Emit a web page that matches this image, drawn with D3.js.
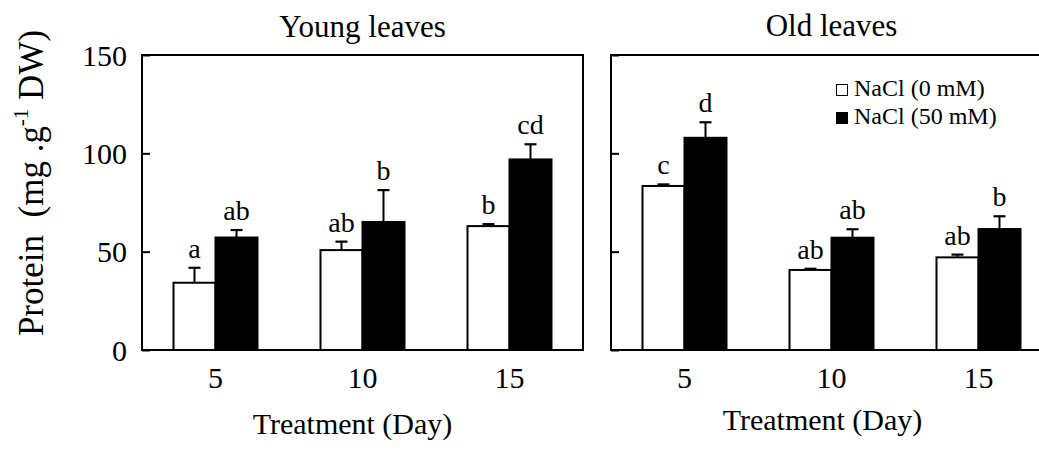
<!DOCTYPE html>
<html>
<head>
<meta charset="utf-8">
<script src="https://cdn.jsdelivr.net/npm/d3@7"></script>
<style>
  html, body { margin: 0; padding: 0; background: #fff; }
  svg { display: block; }
  text { font-family: "Liberation Serif", "Times New Roman", serif; fill: #000; }
</style>
</head>
<body>
<svg id="chart" width="1039" height="454"></svg>
<script>
// ---- data ----
const days = ["5", "10", "15"];
const seriesNames = ["NaCl (0 mM)", "NaCl (50 mM)"];
const panelTitles = ["Young leaves", "Old leaves"];
const yTicks = [0, 50, 100, 150];

const youngControl = [34.2, 50.8, 63.0];
const youngControlErr = [7.6, 4.3, 1.0];
const youngSalt = [57.2, 65.1, 96.9];
const youngSaltErr = [3.8, 16.2, 7.7];
const youngControlLetters = ["a", "ab", "b"];
const youngSaltLetters = ["ab", "b", "cd"];

const oldControl = [83.4, 40.7, 47.1];
const oldControlErr = [0.8, 0.6, 1.4];
const oldSalt = [107.9, 57.1, 61.5];
const oldSaltErr = [7.9, 4.3, 6.5];
const oldControlLetters = ["c", "ab", "ab"];
const oldSaltLetters = ["d", "ab", "b"];

(function () {
// ---- build ----
const panels = [
  { title: panelTitles[0], left: 142, series: [
      { vals: youngControl, errs: youngControlErr, letters: youngControlLetters },
      { vals: youngSalt, errs: youngSaltErr, letters: youngSaltLetters } ],
    xTitleBaseline: 434, xTitleShift: -10, titleBaseline: 37, showLabels: true },
  { title: panelTitles[1], left: 611, series: [
      { vals: oldControl, errs: oldControlErr, letters: oldControlLetters },
      { vals: oldSalt, errs: oldSaltErr, letters: oldSaltLetters } ],
    xTitleBaseline: 430, xTitleShift: -9, titleBaseline: 36, showLabels: false }
];

const svg = d3.select("#chart");
const W = 441, plotTop = 55, plotBottom = 350;
const fills = ["#ffffff", "#000000"];
const serif = "Liberation Serif, Times New Roman, serif";

const y = d3.scaleLinear().domain([0, 150]).range([plotBottom, plotTop]);

panels.forEach(p => {
  const g = svg.append("g").attr("transform", `translate(${p.left},0)`);
  const x = d3.scaleBand().domain(days).range([0, W])
    .paddingInner(0.4286).paddingOuter(0.2143);
  const xs = d3.scaleBand().domain([0, 1]).range([0, x.bandwidth()]);

  // bars
  p.series.forEach((s, si) => {
    const sg = g.append("g");
    days.forEach((d, i) => {
      const bx = x(d) + xs(si);
      const bw = xs.bandwidth();
      const cx = bx + bw / 2;
      sg.append("rect")
        .attr("x", bx).attr("y", y(s.vals[i]))
        .attr("width", bw).attr("height", y(0) - y(s.vals[i]))
        .attr("fill", fills[si]).attr("stroke", "#000").attr("stroke-width", 2);
      const yt = y(s.vals[i] + s.errs[i]);
      sg.append("line").attr("x1", cx).attr("x2", cx)
        .attr("y1", y(s.vals[i])).attr("y2", yt)
        .attr("stroke", "#000").attr("stroke-width", 2);
      sg.append("line").attr("x1", cx - 6).attr("x2", cx + 6)
        .attr("y1", yt).attr("y2", yt)
        .attr("stroke", "#000").attr("stroke-width", 2.2);
      sg.append("text").attr("x", cx).attr("y", yt - 10)
        .attr("text-anchor", "middle").attr("font-size", 28)
        .text(s.letters[i]);
    });
  });

  // y axis ticks (inward)
  const ya = d3.axisLeft(y).tickValues(yTicks).tickSizeInner(-8).tickSizeOuter(0).tickPadding(15);
  const yg = g.append("g").call(ya);
  yg.select(".domain").remove();
  yg.selectAll(".tick line").attr("stroke", "#000").attr("stroke-width", 2);
  yg.selectAll(".tick text").attr("font-size", 30).attr("font-family", serif)
    .attr("fill", "#000").attr("dy", "0.34em");
  if (!p.showLabels) yg.selectAll(".tick text").remove();

  // x axis labels
  const xa = d3.axisBottom(x).tickSize(0).tickPadding(17);
  const xg = g.append("g").attr("transform", `translate(0,${plotBottom})`).call(xa);
  xg.select(".domain").remove();
  xg.selectAll(".tick text").attr("font-size", 30).attr("font-family", serif).attr("fill", "#000");

  // frame
  g.append("rect").attr("x", 0).attr("y", plotTop).attr("width", W).attr("height", plotBottom - plotTop)
    .attr("fill", "none").attr("stroke", "#000").attr("stroke-width", 2);

  // titles
  g.append("text").attr("x", W / 2).attr("y", p.titleBaseline)
    .attr("text-anchor", "middle").attr("font-size", 31).text(p.title);
  g.append("text").attr("x", W / 2 + p.xTitleShift).attr("y", p.xTitleBaseline)
    .attr("text-anchor", "middle").attr("font-size", 30).text("Treatment (Day)");
});

// y axis title
const ytl = svg.append("text")
  .attr("transform", "translate(43,183) rotate(-90)")
  .attr("text-anchor", "middle").attr("font-size", 35)
  .attr("xml:space", "preserve").style("white-space", "pre");
ytl.append("tspan").text("Protein  (mg .g");
ytl.append("tspan").attr("font-size", 21).attr("dy", -15).text("-1");
ytl.append("tspan").attr("dy", 15).text(" DW)");

// legend
const legend = svg.append("g").attr("transform", "translate(836,0)");
seriesNames.forEach((n, i) => {
  const ly = 96 + i * 28;
  legend.append("rect").attr("x", 0.5).attr("y", ly - 11.5).attr("width", 11).attr("height", 11)
    .attr("fill", fills[i]).attr("stroke", "#000").attr("stroke-width", 1);
  legend.append("text").attr("x", 18).attr("y", ly).attr("font-size", 24).text(n);
});
})();
</script>
</body>
</html>
